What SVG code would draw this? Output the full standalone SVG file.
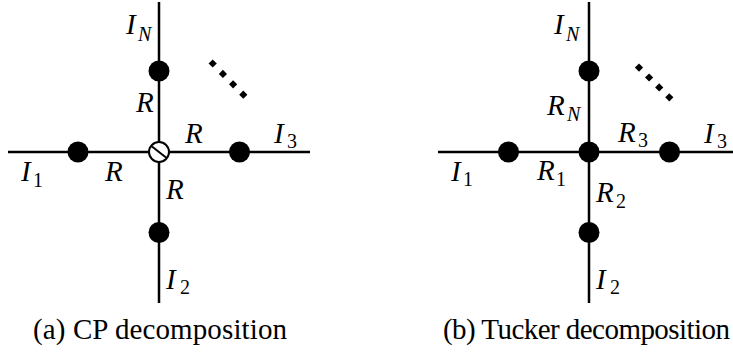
<svg xmlns="http://www.w3.org/2000/svg" width="733" height="352" viewBox="0 0 733 352">
<style>
.edge{stroke:#000;stroke-width:2.5;fill:none}
.node{fill:#000}
.hub{fill:#fff;stroke:#000;stroke-width:2}
.slash{stroke:#000;stroke-width:2}
.dot{fill:#000}
.lab{font-family:"Liberation Serif","Times New Roman",serif;font-style:italic;font-size:29px;fill:#000}
.sub{font-style:normal;font-size:20px}
.subi{font-style:italic;font-size:20px}
.cap{font-family:"Liberation Serif","Times New Roman",serif;font-size:29px;fill:#000}
</style>
<defs>
<rect id="dm" x="-2.9" y="-2.9" width="5.8" height="5.8" transform="rotate(45)"/>
</defs>
<rect width="733" height="352" fill="#fff"/>

<!-- (a) CP decomposition -->
<g id="connectors-a">
<line class="edge" x1="159" y1="2" x2="159" y2="303"/>
<line class="edge" x1="8" y1="152" x2="310" y2="152"/>
</g>
<g id="a-node-N"><circle class="node" cx="159" cy="71" r="10.5"/></g>
<g id="a-node-1"><circle class="node" cx="78" cy="152" r="10.5"/></g>
<g id="a-node-3"><circle class="node" cx="239.5" cy="152" r="10.5"/></g>
<g id="a-node-2"><circle class="node" cx="159" cy="232.5" r="10.5"/></g>
<g id="a-core">
<circle class="hub" cx="159" cy="152" r="10"/>
<line class="slash" x1="152" y1="146.5" x2="166" y2="157.5"/>
</g>
<g id="a-dots" class="dot">
<use href="#dm" x="212.7" y="63.5"/>
<use href="#dm" x="222.9" y="73.9"/>
<use href="#dm" x="233.1" y="84.3"/>
<use href="#dm" x="243.3" y="94.7"/>
</g>
<g id="a-labels" class="lab">
<text x="126" y="34">I<tspan class="subi" x="138" y="41">N</tspan></text>
<text x="136" y="112">R</text>
<text x="21" y="181">I<tspan class="sub" x="33" y="187">1</tspan></text>
<text x="105" y="181">R</text>
<text x="185" y="143">R</text>
<text x="274" y="143">I<tspan class="sub" x="287" y="148">3</tspan></text>
<text x="166" y="199">R</text>
<text x="166" y="289">I<tspan class="sub" x="180" y="294">2</tspan></text>
</g>
<text id="cap-a" class="cap" x="33" y="339" textLength="254" lengthAdjust="spacing">(a) CP decomposition</text>

<!-- (b) Tucker decomposition -->
<g id="connectors-b">
<line class="edge" x1="589" y1="2" x2="589" y2="303"/>
<line class="edge" x1="438" y1="152" x2="733" y2="152"/>
</g>
<g id="b-node-N"><circle class="node" cx="589" cy="71" r="10.5"/></g>
<g id="b-node-1"><circle class="node" cx="508.5" cy="152" r="10.5"/></g>
<g id="b-node-3"><circle class="node" cx="669.5" cy="152" r="10.5"/></g>
<g id="b-node-2"><circle class="node" cx="589" cy="232.5" r="10.5"/></g>
<g id="b-core"><circle class="node" cx="589" cy="152" r="10.5"/></g>
<g id="b-dots" class="dot">
<use href="#dm" x="639" y="67.6"/>
<use href="#dm" x="649.1" y="77.5"/>
<use href="#dm" x="659.2" y="87.4"/>
<use href="#dm" x="669.3" y="97.3"/>
</g>
<g id="b-labels" class="lab">
<text x="554" y="34">I<tspan class="subi" x="566" y="41">N</tspan></text>
<text x="547" y="115">R<tspan class="subi" x="567" y="121">N</tspan></text>
<text x="451" y="181">I<tspan class="sub" x="463" y="186">1</tspan></text>
<text x="537" y="180">R<tspan class="sub" x="556" y="186">1</tspan></text>
<text x="618" y="142">R<tspan class="sub" x="638" y="147">3</tspan></text>
<text x="704" y="143">I<tspan class="sub" x="717" y="148">3</tspan></text>
<text x="596" y="202">R<tspan class="sub" x="616" y="208">2</tspan></text>
<text x="596" y="289">I<tspan class="sub" x="610" y="294">2</tspan></text>
</g>
<text id="cap-b" class="cap" x="443" y="339" textLength="287" lengthAdjust="spacing">(b) Tucker decomposition</text>
</svg>
